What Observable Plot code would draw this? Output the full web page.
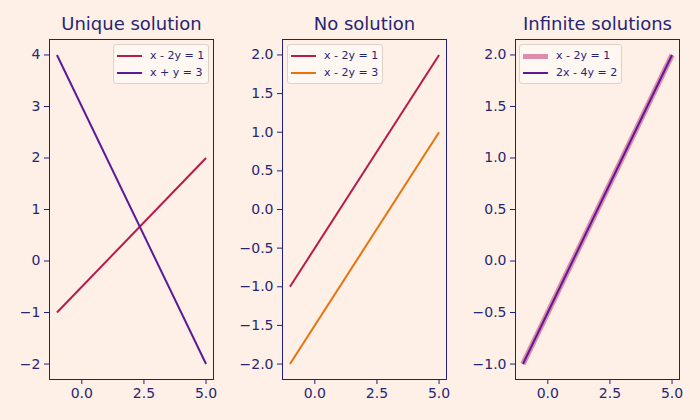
<!DOCTYPE html>
<html>
<head>
<meta charset="utf-8">
<script src="https://cdn.jsdelivr.net/npm/d3@7"></script>
<script src="https://cdn.jsdelivr.net/npm/@observablehq/plot@0.6"></script>
<style>
  html, body { margin: 0; padding: 0; background: #fef0e6; }
  #fig { position: relative; width: 700px; height: 420px; background: #fef0e6; font-family: "DejaVu Sans", sans-serif; }
  .panel { position: absolute; top: 0; }
  .legend {
    position: absolute; box-sizing: border-box;
    background: rgba(255, 248, 243, 0.85); border: 1px solid #dcd2cc; border-radius: 3px;
    font-size: 11px; color: #262673; padding: 3px 4px 2px 3px; line-height: 16.5px;
  }
  .legend .row { display: flex; align-items: center; white-space: nowrap; }
  .legend .sw { display: inline-block; width: 25px; margin-right: 8px; }
</style>
</head>
<body>
<div id="fig"></div>
<script>
// x positions where each line is evaluated
const xs = [-1, 5];

// Panel titles
const titles = ["Unique solution", "No solution", "Infinite solutions"];

// Line labels per panel
const labels1 = ["x - 2y = 1", "x + y = 3"];
const labels2 = ["x - 2y = 1", "x - 2y = 3"];
const labels3 = ["x - 2y = 1", "2x - 4y = 2"];

// y values at xs for each line
const unique1 = [-1, 2];   // x - 2y = 1
const unique2 = [4, -2];   // x + y = 3
const none1 = [-1, 2];     // x - 2y = 1
const none2 = [-2, 1];     // x - 2y = 3
const inf1 = [-1, 2];      // x - 2y = 1
const inf2 = [-1, 2];      // 2x - 4y = 2

// y tick values
const yTicks1 = [-2, -1, 0, 1, 2, 3, 4];
const yTicks2 = [-2, -1.5, -1, -0.5, 0, 0.5, 1, 1.5, 2];
const yTicks3 = [-1, -0.5, 0, 0.5, 1, 1.5, 2];
const xTicks = [0, 2.5, 5];

const navy = "#1f1f80";
const ink = "#262673";
const crimson = "#b81a4b";
const purple = "#5c1a98";
const orange = "#e8730c";
const pink = "#dc7ea2";

const fig = document.getElementById("fig");

function toRows(ys, label) {
  return xs.map((x, i) => ({x, y: ys[i], label}));
}

function panel({left, title, series, yDomain, yTicks, yFormat, legend}) {
  const wrap = document.createElement("div");
  wrap.className = "panel";
  wrap.style.left = left + "px";
  const marks = [
    Plot.axisX({ticks: xTicks, tickFormat: d3.format(".1f"), tickSize: 5, tickPadding: 4, stroke: navy, color: ink, fontSize: 14, label: null}),
    Plot.axisY({ticks: yTicks, tickFormat: yFormat, tickSize: 5, tickPadding: 4, stroke: navy, color: ink, fontSize: 14, label: null}),
    ...series.map(s => Plot.line(toRows(s.ys, s.label), {
      x: "x", y: "y", stroke: s.color, strokeWidth: s.width,
      strokeOpacity: s.opacity ?? 1, strokeLinecap: "butt"
    })),
    Plot.frame({stroke: navy, strokeWidth: 1}),
    Plot.text([title], {
      frameAnchor: "top", dy: -10, lineAnchor: "bottom",
      fontSize: 18, fill: ink, text: d => d
    })
  ];
  const svg = Plot.plot({
    width: 233, height: 420,
    marginLeft: 49, marginRight: 20, marginTop: 39, marginBottom: 41,
    style: {background: "transparent", fontFamily: "DejaVu Sans, sans-serif", overflow: "visible"},
    x: {domain: [-1.3, 5.3]},
    y: {domain: yDomain},
    marks
  });
  wrap.appendChild(svg);

  const lg = document.createElement("div");
  lg.className = "legend";
  lg.style.left = legend.left + "px";
  lg.style.top = "44px";
  for (const s of series) {
    const row = document.createElement("div");
    row.className = "row";
    const sw = document.createElement("span");
    sw.className = "sw";
    sw.style.height = "0";
    sw.style.borderTop = `${s.width}px solid ${s.color}`;
    sw.style.opacity = s.opacity ?? 1;
    const t = document.createElement("span");
    t.textContent = s.label;
    row.appendChild(sw);
    row.appendChild(t);
    lg.appendChild(row);
  }
  wrap.appendChild(lg);
  fig.appendChild(wrap);
}

panel({
  left: 0, title: titles[0],
  series: [
    {ys: unique1, label: labels1[0], color: crimson, width: 2},
    {ys: unique2, label: labels1[1], color: purple, width: 2}
  ],
  yDomain: [-2.3, 4.3], yTicks: yTicks1, yFormat: d3.format("d"),
  legend: {left: 113}
});

panel({
  left: 233, title: titles[1],
  series: [
    {ys: none1, label: labels2[0], color: crimson, width: 2},
    {ys: none2, label: labels2[1], color: orange, width: 2}
  ],
  yDomain: [-2.2, 2.2], yTicks: yTicks2, yFormat: d3.format(".1f"),
  legend: {left: 54}
});

panel({
  left: 466, title: titles[2],
  series: [
    {ys: inf1, label: labels3[0], color: pink, width: 5.5, opacity: 0.9},
    {ys: inf2, label: labels3[1], color: purple, width: 2}
  ],
  yDomain: [-1.15, 2.15], yTicks: yTicks3, yFormat: d3.format(".1f"),
  legend: {left: 53}
});
</script>
</body>
</html>
